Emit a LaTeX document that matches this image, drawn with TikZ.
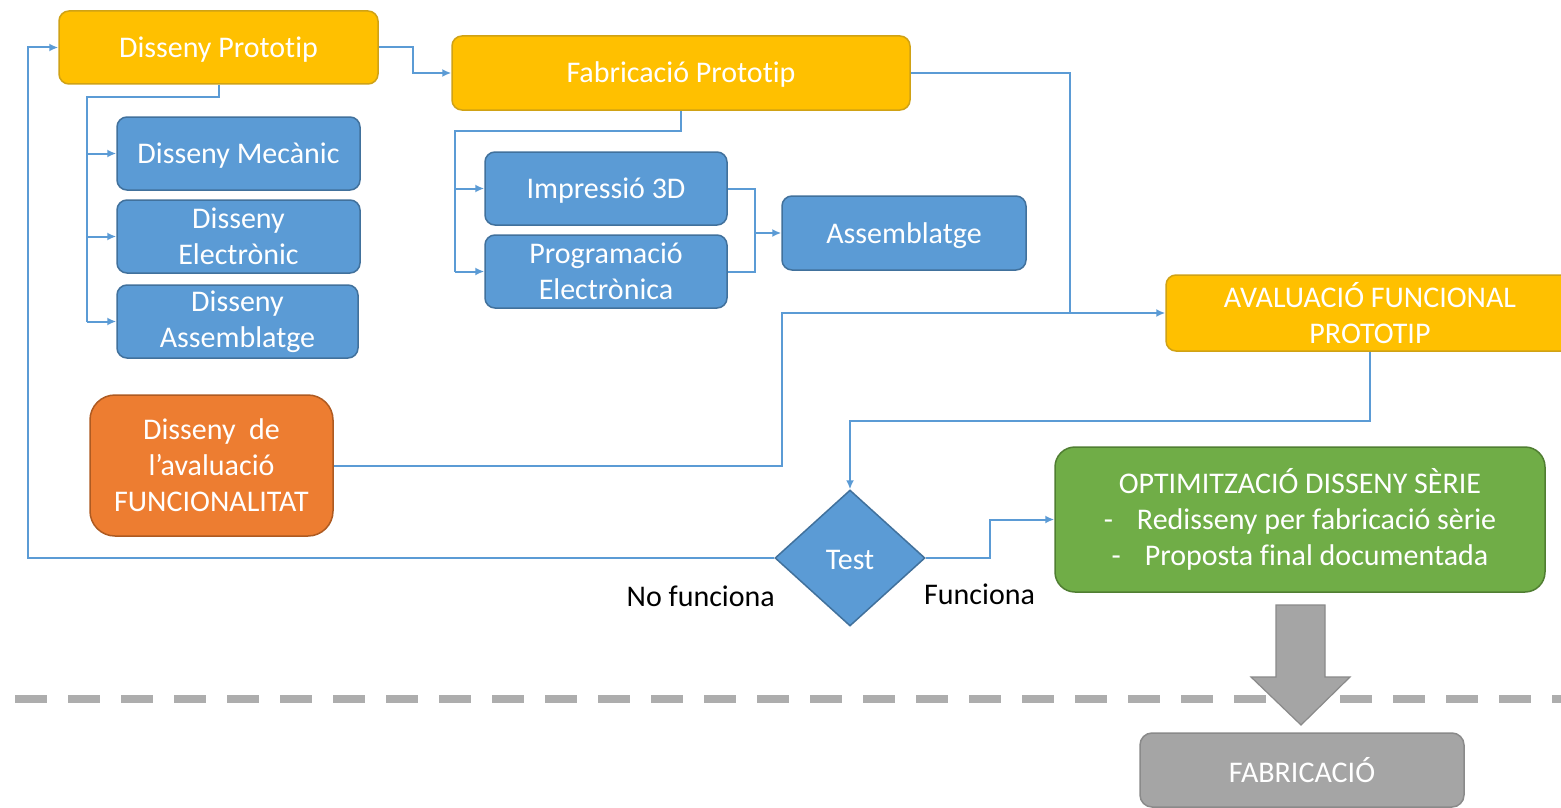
\documentclass[tikz,border=0pt]{standalone}
\usepackage{fontspec}
\setmainfont{Carlito}[Ligatures=NoCommon, Contextuals=NoAlternate]
\usetikzlibrary{shapes.geometric,arrows.meta}
\definecolor{ambar}{HTML}{FFC000}
\definecolor{ambarline}{HTML}{D0A215}
\definecolor{blau}{HTML}{5B9BD5}
\definecolor{blauline}{HTML}{41719C}
\definecolor{taronja}{HTML}{ED7D31}
\definecolor{taronjaline}{HTML}{AE5A21}
\definecolor{verd}{HTML}{70AD47}
\definecolor{verdline}{HTML}{507E32}
\definecolor{gris}{HTML}{A5A5A5}
\definecolor{grisline}{HTML}{8A8A8A}
\definecolor{connector}{HTML}{5B9BD5}
\tikzset{
  base/.style={rounded corners=10pt, line width=1.5pt, text=white, align=center,
    inner sep=0pt, font=\fontsize{30}{36}\selectfont},
  oneline/.style={text height=24pt, text depth=4pt},
  groc/.style={base, fill=ambar, draw=ambarline},
  blaubox/.style={base, fill=blau, draw=blauline},
  taronjabox/.style={base, fill=taronja, draw=taronjaline, rounded corners=25pt},
  verdbox/.style={base, fill=verd, draw=verdline, rounded corners=20pt},
  grisbox/.style={base, fill=gris, draw=grisline, rounded corners=12pt},
  decisio/.style={diamond, fill=blau, draw=blauline, line width=1.5pt, text=white,
    inner sep=0pt, aspect=1.1, text height=23pt, text depth=0pt,
    font=\fontsize{30}{36}\selectfont},
  etiqueta/.style={inner sep=0pt, text=black, font=\fontsize{30}{36}\selectfont},
  con/.style={draw=connector, line width=2pt},
  arr/.style={con, -{Latex[length=9pt,width=8pt]}}
}
\begin{document}
\begin{tikzpicture}[x=1pt,y=-1pt]
\clip (0,0) rectangle (1561,808);
\fill[white] (0,0) rectangle (1561,808);

% separator between prototyping and manufacturing
\draw[grisline!70, line width=8pt, dash pattern=on 32pt off 21pt] (15,699) -- (1561,699);

% process boxes
\node[groc, oneline, minimum width=319pt, minimum height=73pt] (dp) at (218.5,47.5) {Disseny Prototip};
\node[groc, oneline, minimum width=458pt, minimum height=74pt] (fp) at (681,73) {Fabricació Prototip};
\node[blaubox, oneline, minimum width=243pt, minimum height=73pt] (dm) at (238.5,153.5) {Disseny Mecànic};
\node[blaubox, minimum width=243pt, minimum height=73pt] (de) at (238.5,236.5) {Disseny\\Electrònic};
\node[blaubox, minimum width=241pt, minimum height=73pt] (da) at (237.5,321.5) {Disseny\\Assemblatge};
\node[blaubox, oneline, minimum width=242pt, minimum height=73pt] (i3) at (606,188.5) {Impressió 3D};
\node[blaubox, minimum width=242pt, minimum height=73pt] (pe) at (606,271.5) {Programació\\Electrònica};
\node[blaubox, oneline, minimum width=244pt, minimum height=74pt] (as) at (904,233) {Assemblatge};
\node[groc, minimum width=408pt, minimum height=76pt] (av) at (1370,313) {AVALUACIÓ FUNCIONAL\\PROTOTIP};
\node[taronjabox, minimum width=243pt, minimum height=141pt] (dv) at (211.5,465.5) {Disseny\ \ de\\l’avaluació\\FUNCIONALITAT};
\node[decisio, minimum width=150pt, minimum height=136pt] (test) at (850,558) {Test};
\node[verdbox, minimum width=490pt, minimum height=145pt] (opt) at (1300,519.5)
  {OPTIMITZACIÓ DISSENY SÈRIE\\-\hspace{24pt}Redisseny per fabricació sèrie\\-\hspace{24pt}Proposta final documentada};
\node[grisbox, minimum width=324pt, minimum height=74pt] (fab) at (1302,770) {FABRICACIÓ};

% outcome labels
\node[etiqueta, anchor=east] (nf) at (775,596) {No funciona};
\node[etiqueta, anchor=west] (sf) at (924,594) {Funciona};

% routing points
\coordinate (lp) at (28,558);
\coordinate (k1) at (413,47.5);
\coordinate (j1) at (87,97);
\coordinate (j2) at (455,131);
\coordinate (j3) at (755,188.5);
\coordinate (j4) at (1070,73);
\coordinate (j5) at (782,465.5);
\coordinate (j6) at (1370,421);
\coordinate (j7) at (990,558);

% feedback loop when the test fails
\draw[arr] (test.west) -- (lp) |- (dp.west);
% prototype design to manufacturing
\draw[arr] (dp.east) -- (k1) |- (fp.west);
% design sub-tasks
\draw[con] (dp.south) |- (j1) -- (j1 |- da.west);
\draw[arr] (j1 |- dm.west) -- (dm.west);
\draw[arr] (j1 |- de.west) -- (de.west);
\draw[arr] (j1 |- da.west) -- (da.west);
% manufacturing sub-tasks
\draw[con] (fp.south) |- (j2) -- (j2 |- pe.west);
\draw[arr] (j2 |- i3.west) -- (i3.west);
\draw[arr] (j2 |- pe.west) -- (pe.west);
% printing and programming join into assembly
\draw[con] (i3.east) -- (j3) -- (j3 |- pe.east) -- (pe.east);
\draw[arr] (j3 |- as.west) -- (as.west);
% manufacturing and evaluation design feed the functional evaluation
\draw[arr] (fp.east) -- (j4) |- (av.west);
\draw[con] (dv.east) -- (j5) |- (j4 |- av.west);
% evaluation to test
\draw[arr] (av.south) -- (j6) -| (test.north);
% test passed
\draw[arr] (test.east) -- (j7) |- (opt.west);

% block arrow towards manufacturing
\draw[fill=gris, draw=grisline, line width=1.2pt]
  (1276,605) -- (1325,605) -- (1325,677) -- (1350,677) -- (1301,725) -- (1251,677) -- (1276,677) -- cycle;
\end{tikzpicture}
\end{document}
